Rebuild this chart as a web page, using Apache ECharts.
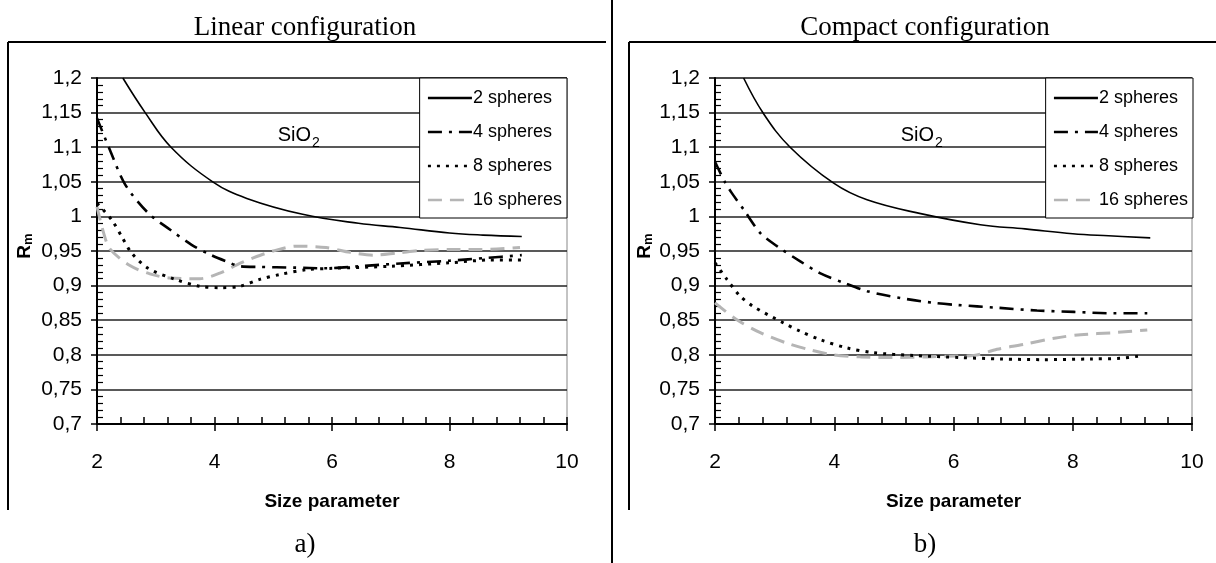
<!DOCTYPE html>
<html>
<head>
<meta charset="utf-8">
<script src="https://cdn.jsdelivr.net/npm/echarts@6/dist/echarts.min.js"></script>
<style>
  html, body { margin: 0; padding: 0; background: #fff; }
  #main { width: 1216px; height: 563px; }
</style>
</head>
<body>
<div id="main"></div>
<script>
// names and ticks
const seriesNames = ['2 spheres', '4 spheres', '8 spheres', '16 spheres'];
const xTicks = [2, 4, 6, 8, 10];
const yTicks = [0.7, 0.75, 0.8, 0.85, 0.9, 0.95, 1, 1.05, 1.1, 1.15, 1.2];

// a) linear configuration  [size parameter, Rm]
const linear2 = [[2.44, 1.2], [2.82, 1.15], [3.26, 1.1], [3.97, 1.05], [4.55, 1.026], [5.5, 1.003], [6.45, 0.99], [7.16, 0.984], [8.0, 0.976], [8.57, 0.973], [9.23, 0.971]];
const linear4 = [[2.0, 1.142], [2.22, 1.096], [2.48, 1.046], [2.87, 1.005], [3.24, 0.981], [3.61, 0.959], [3.92, 0.945], [4.2, 0.935], [4.43, 0.928], [4.77, 0.927], [5.34, 0.926], [5.9, 0.925], [6.48, 0.928], [7.16, 0.932], [8.0, 0.936], [8.63, 0.94], [9.23, 0.944]];
const linear8 = [[2.0, 1.019], [2.25, 0.995], [2.42, 0.971], [2.59, 0.947], [2.87, 0.925], [3.33, 0.909], [3.75, 0.899], [4.09, 0.897], [4.43, 0.899], [4.77, 0.909], [5.11, 0.916], [5.57, 0.923], [6.02, 0.925], [7.0, 0.928], [8.0, 0.933], [8.7, 0.937], [9.23, 0.937]];
const linear16 = [[2.0, 1.014], [2.11, 0.977], [2.22, 0.953], [2.56, 0.929], [2.9, 0.917], [3.24, 0.911], [3.75, 0.91], [4.09, 0.918], [4.38, 0.93], [4.66, 0.94], [5.0, 0.95], [5.4, 0.957], [5.9, 0.955], [6.31, 0.948], [6.7, 0.944], [7.1, 0.947], [7.55, 0.951], [8.0, 0.952], [8.52, 0.952], [9.2, 0.955]];

// b) compact configuration
const compact2 = [[2.48, 1.2], [2.81, 1.149], [3.26, 1.1], [3.99, 1.048], [4.55, 1.024], [5.45, 1.004], [6.45, 0.988], [7.2, 0.982], [8.0, 0.975], [8.6, 0.972], [9.3, 0.969]];
const compact4 = [[2.0, 1.079], [2.17, 1.049], [2.28, 1.034], [2.48, 1.01], [2.76, 0.976], [3.04, 0.957], [3.43, 0.935], [3.76, 0.918], [4.16, 0.904], [4.55, 0.892], [5.11, 0.882], [5.67, 0.875], [6.06, 0.872], [6.73, 0.868], [7.4, 0.864], [8.02, 0.862], [8.69, 0.86], [9.25, 0.86]];
const compact8 = [[2.0, 0.933], [2.2, 0.909], [2.42, 0.885], [2.64, 0.87], [3.15, 0.846], [3.43, 0.834], [3.76, 0.822], [4.21, 0.81], [4.66, 0.803], [5.33, 0.799], [6.12, 0.796], [6.8, 0.794], [7.5, 0.793], [8.3, 0.794], [8.8, 0.795], [9.1, 0.798]];
const compact16 = [[2.0, 0.875], [2.36, 0.851], [2.76, 0.832], [3.2, 0.817], [3.6, 0.807], [3.99, 0.8], [4.44, 0.797], [5.0, 0.796], [5.56, 0.797], [5.89, 0.798], [6.34, 0.799], [6.73, 0.808], [7.18, 0.815], [7.69, 0.824], [8.13, 0.829], [8.69, 0.832], [9.25, 0.836]];

const narrow = "'Liberation Sans Narrow', 'Liberation Sans', Arial, sans-serif";
const serif = "'Liberation Serif', 'Times New Roman', serif";

const lineStyles = [
  { color: '#000', width: 1.6, type: 'solid' },
  { color: '#000', width: 2.6, type: [14, 7, 3, 7] },
  { color: '#000', width: 3, type: [3, 6] },
  { color: '#b5b5b5', width: 3, type: [14, 8] }
];

const myChart = echarts.init(document.getElementById('main'));

function yFmt(v) {
  return String(parseFloat(v.toFixed(2))).replace('.', ',');
}

// each panel gets a main axis (labels, outside ticks) and an overlay axis (inside minor ticks)
function makeX(gridIndex) {
  const base = {
    type: 'value', gridIndex: gridIndex, position: 'bottom',
    min: xTicks[0], max: xTicks[xTicks.length - 1], interval: xTicks[1] - xTicks[0]
  };
  return [
    Object.assign({}, base, {
      name: 'Size parameter',
      nameLocation: 'middle', nameGap: 68,
      nameTextStyle: { color: '#000', fontSize: 19, fontWeight: 'bold', fontFamily: narrow },
      axisLine: { show: true, lineStyle: { color: '#000', width: 2 } },
      axisTick: { show: true, inside: false, length: 7, lineStyle: { color: '#000', width: 1.5 } },
      axisLabel: { color: '#000', fontSize: 21, fontFamily: narrow, margin: 28 },
      splitLine: { show: false }
    }),
    Object.assign({}, base, {
      axisLine: { show: false },
      axisTick: { show: true, inside: true, length: 7, lineStyle: { color: '#000', width: 1.5 } },
      minorTick: { show: true, splitNumber: 5, length: 7, lineStyle: { color: '#000', width: 1.5 } },
      axisLabel: { show: false },
      splitLine: { show: false }
    })
  ];
}

function makeY(gridIndex) {
  const base = {
    type: 'value', gridIndex: gridIndex, position: 'left',
    min: yTicks[0], max: yTicks[yTicks.length - 1], interval: 0.05
  };
  return [
    Object.assign({}, base, {
      axisLine: { show: true, lineStyle: { color: '#000', width: 2 } },
      axisTick: { show: true, inside: false, length: 6, lineStyle: { color: '#000', width: 1.5 } },
      axisLabel: { color: '#000', fontSize: 21, fontFamily: narrow, margin: 15, formatter: yFmt },
      splitLine: { show: true, lineStyle: { color: '#222', width: 1.6 } }
    }),
    Object.assign({}, base, {
      axisLine: { show: false },
      axisTick: { show: false, inside: true },
      minorTick: { show: true, splitNumber: 5, length: 6, lineStyle: { color: '#000', width: 1.2 } },
      axisLabel: { show: false },
      splitLine: { show: false }
    })
  ];
}

function makeSeries(datasets, axisIndex) {
  return datasets.map((d, i) => ({
    name: seriesNames[i],
    type: 'line',
    xAxisIndex: axisIndex,
    yAxisIndex: axisIndex,
    data: d,
    smooth: i === 0 ? 0.4 : 0.3,
    showSymbol: false,
    symbol: 'none',
    lineStyle: lineStyles[i],
    itemStyle: { color: lineStyles[i].color },
    z: 4 - i,
    silent: true
  }));
}

function makeLegend(right) {
  return {
    right: right, top: 78, orient: 'vertical',
    data: seriesNames,
    itemWidth: 44, itemHeight: 14, itemGap: 16,
    padding: [11, 5, 9, 7],
    backgroundColor: '#fff', borderColor: '#000', borderWidth: 1,
    itemStyle: { opacity: 0 },
    lineStyle: { width: 2.6 },
    textStyle: { color: '#000', fontSize: 18, fontFamily: narrow, padding: [0, 0, 0, -4] },
    selectedMode: false
  };
}

function panelText(cx, title, letter, rmX, sioX) {
  return [
    { type: 'text', x: cx, y: 28, style: { text: title, font: '27px ' + serif, fill: '#000', align: 'center', verticalAlign: 'middle' } },
    { type: 'text', x: cx, y: 545, style: { text: letter, font: '27px ' + serif, fill: '#000', align: 'center', verticalAlign: 'middle' } },
    { type: 'text', x: rmX, y: 246, rotation: Math.PI / 2,
      style: { text: '{r|R}{m|m}', fill: '#000', align: 'center', verticalAlign: 'middle',
        rich: { r: { fontSize: 19, fontWeight: 'bold', fontFamily: narrow }, m: { fontSize: 13, fontWeight: 'bold', fontFamily: narrow, verticalAlign: 'bottom' } } } },
    { type: 'text', x: sioX, y: 135, style: { text: 'SiO', font: '20px ' + narrow, fill: '#000', align: 'right', verticalAlign: 'middle' }, z: 10 },
    { type: 'text', x: sioX + 1, y: 143, style: { text: '2', font: '14px ' + narrow, fill: '#000', align: 'left', verticalAlign: 'middle' }, z: 10 }
  ];
}

function frameLines() {
  const st = { stroke: '#000', lineWidth: 2 };
  return [
    { type: 'line', shape: { x1: 8, y1: 42, x2: 606, y2: 42 }, style: st },
    { type: 'line', shape: { x1: 8, y1: 42, x2: 8, y2: 510 }, style: st },
    { type: 'line', shape: { x1: 612, y1: 0, x2: 612, y2: 563 }, style: st },
    { type: 'line', shape: { x1: 629, y1: 42, x2: 1216, y2: 42 }, style: st },
    { type: 'line', shape: { x1: 629, y1: 42, x2: 629, y2: 510 }, style: st }
  ];
}

const xA = makeX(0), xB = makeX(1);
const yA = makeY(0), yB = makeY(1);

const option = {
  backgroundColor: '#fff',
  animation: false,
  grid: [
    { left: 97, top: 78, width: 470, height: 346, show: true, borderColor: '#888', borderWidth: 1, backgroundColor: 'transparent' },
    { left: 715, top: 78, width: 477, height: 346, show: true, borderColor: '#888', borderWidth: 1, backgroundColor: 'transparent' }
  ],
  xAxis: [xA[0], xA[1], xB[0], xB[1]],
  yAxis: [yA[0], yA[1], yB[0], yB[1]],
  legend: [makeLegend(649), makeLegend(23)],
  graphic: frameLines()
    .concat(panelText(305, 'Linear configuration', 'a)', 25, 311))
    .concat(panelText(925, 'Compact configuration', 'b)', 645, 934)),
  series: makeSeries([linear2, linear4, linear8, linear16], 0)
    .concat(makeSeries([compact2, compact4, compact8, compact16], 2))
};

option && myChart.setOption(option);
</script>
</body>
</html>
